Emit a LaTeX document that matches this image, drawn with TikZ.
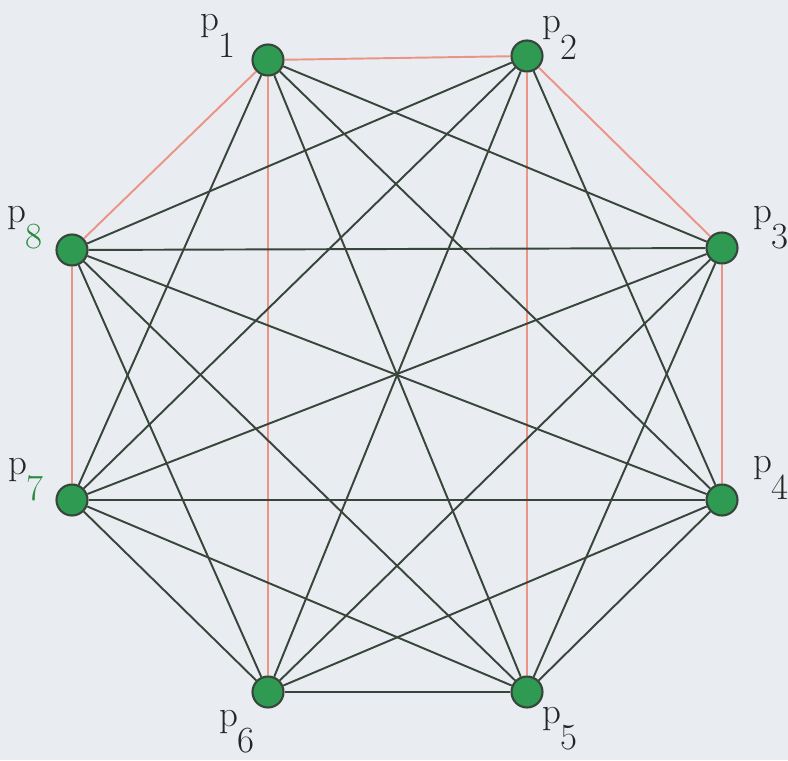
\documentclass[tikz,border=0pt]{standalone}
\usepackage{tikz}
\usetikzlibrary{positioning}

\definecolor{paper}{HTML}{E9EDF1}
\definecolor{vertexgreen}{HTML}{2E9A52}
\definecolor{edgedark}{HTML}{37453A}
\definecolor{edgered}{HTML}{EB9486}
\definecolor{labelgreen}{HTML}{2A8A3E}

% label: p with its index set low beside it
\newcommand{\plab}[1]{p\raisebox{-15pt}{#1}}

\begin{document}
\begin{tikzpicture}
    % Define styles for the nodes
    \tikzstyle{vertex} = [
        circle, draw=edgedark, fill=vertexgreen, line width=1.2pt,
        minimum size=0.62cm, inner sep=0
    ]
    \tikzstyle{vlabel} = [
        inner sep=0, text=black!85, font=\fontsize{21}{21}\selectfont
    ]
    \tikzstyle{chord} = [edgedark, line width=1.1pt]
    \tikzstyle{side} = [edgered, line width=1.1pt]

    \fill[paper] (0,0) rectangle (15.76,15.2);
    \useasboundingbox (0,0) rectangle (15.76,15.2);

    % Vertices
    \node[vertex] (p1) at (5.36, 14.00) {};
    \node[vertex] (p2) at (10.54, 14.08) {};
    \node[vertex] (p3) at (14.44, 10.24) {};
    \node[vertex] (p4) at (14.44, 5.20) {};
    \node[vertex] (p5) at (10.54, 1.36) {};
    \node[vertex] (p6) at (5.36, 1.36) {};
    \node[vertex] (p7) at (1.44, 5.20) {};
    \node[vertex] (p8) at (1.44, 10.20) {};

    % Labels
    \node[vlabel] (lab1) at ([shift={(-1.00, 0.48)}]p1) {\plab{1}};
    \node[vlabel] (lab2) at ([shift={(0.66, 0.36)}]p2) {\plab{2}};
    \node[vlabel] (lab3) at ([shift={(0.98, 0.40)}]p3) {\plab{3}};
    \node[vlabel] (lab4) at ([shift={(0.98, 0.44)}]p4) {\plab{4}};
    \node[vlabel] (lab5) at ([shift={(0.66, -0.74)}]p5) {\plab{5}};
    \node[vlabel] (lab6) at ([shift={(-0.62, -0.80)}]p6) {\plab{6}};
    \node[vlabel] (lab7) at ([shift={(-0.92, 0.40)}]p7) {p\raisebox{-15pt}{\color{labelgreen}7}};
    \node[vlabel] (lab8) at ([shift={(-0.94, 0.44)}]p8) {p\raisebox{-15pt}{\color{labelgreen}8}};

    % Red sides
    \draw[side] (p1) -- (p2);
    \draw[side] (p2) -- (p3);
    \draw[side] (p3) -- (p4);
    \draw[side] (p7) -- (p8);
    \draw[side] (p8) -- (p1);
    \draw[side] (p1) -- (p6);
    \draw[side] (p2) -- (p5);

    % Dark sides
    \draw[chord] (p4) -- (p5);
    \draw[chord] (p5) -- (p6);
    \draw[chord] (p6) -- (p7);

    % Chords from p1
    \draw[chord] (p1) -- (p3);
    \draw[chord] (p1) -- (p4);
    \draw[chord] (p1) -- (p5);
    \draw[chord] (p1) -- (p7);

    % Chords from p2
    \draw[chord] (p2) -- (p4);
    \draw[chord] (p2) -- (p6);
    \draw[chord] (p2) -- (p7);
    \draw[chord] (p2) -- (p8);

    % Chords from p3
    \draw[chord] (p3) -- (p5);
    \draw[chord] (p3) -- (p6);
    \draw[chord] (p3) -- (p7);
    \draw[chord] (p3) -- (p8);

    % Chords from p4
    \draw[chord] (p4) -- (p6);
    \draw[chord] (p4) -- (p7);
    \draw[chord] (p4) -- (p8);

    % Chords from p5
    \draw[chord] (p5) -- (p7);
    \draw[chord] (p5) -- (p8);

    % Chords from p6
    \draw[chord] (p6) -- (p8);

\end{tikzpicture}
\end{document}
